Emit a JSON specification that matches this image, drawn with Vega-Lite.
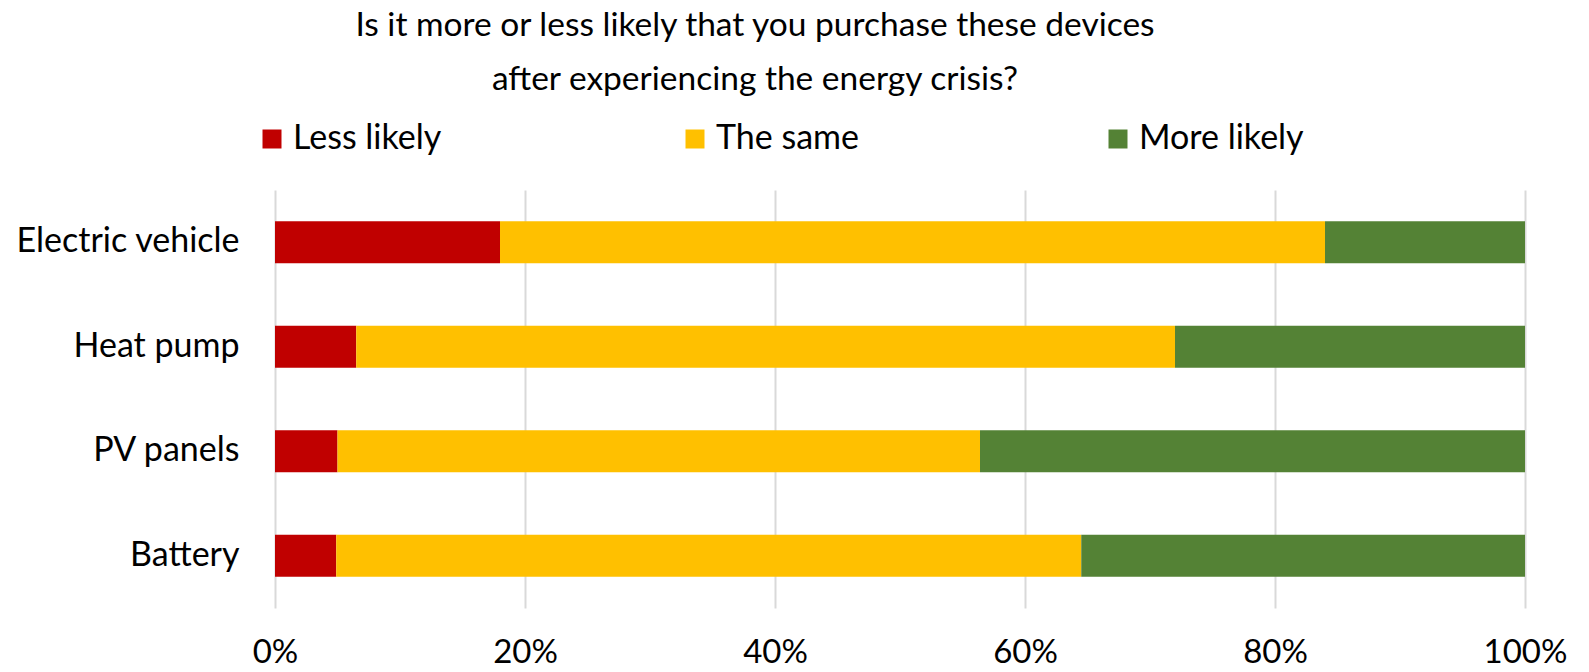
{
  "$schema": "https://vega.github.io/schema/vega-lite/v6.json",
  "width": 1250,
  "height": 418,
  "autosize": {"type": "none"},
  "padding": {"left": 275, "top": 190, "right": 64, "bottom": 64},
  "background": "white",
  "title": {
    "text": ["Is it more or less likely that you purchase these devices", "after experiencing the energy crisis?"],
    "font": "Lato",
    "fontSize": 33.5,
    "fontWeight": "normal",
    "color": "#000000",
    "lineHeight": 54,
    "anchor": "middle",
    "dx": -145,
    "offset": 25
  },
  "data": {
    "values": [
      {"device": "Electric vehicle", "answer": "Less likely", "share": 18.0},
      {"device": "Electric vehicle", "answer": "The same", "share": 66.0},
      {"device": "Electric vehicle", "answer": "More likely", "share": 16.0},
      {"device": "Heat pump", "answer": "Less likely", "share": 6.5},
      {"device": "Heat pump", "answer": "The same", "share": 65.5},
      {"device": "Heat pump", "answer": "More likely", "share": 28.0},
      {"device": "PV panels", "answer": "Less likely", "share": 5.0},
      {"device": "PV panels", "answer": "The same", "share": 51.4},
      {"device": "PV panels", "answer": "More likely", "share": 43.6},
      {"device": "Battery", "answer": "Less likely", "share": 4.9},
      {"device": "Battery", "answer": "The same", "share": 59.6},
      {"device": "Battery", "answer": "More likely", "share": 35.5}
    ]
  },
  "transform": [
    {"calculate": "indexof(['Less likely', 'The same', 'More likely'], datum.answer)", "as": "stackOrder"}
  ],
  "mark": {"type": "bar"},
  "encoding": {
    "y": {
      "field": "device",
      "type": "nominal",
      "sort": ["Electric vehicle", "Heat pump", "PV panels", "Battery"],
      "scale": {"paddingInner": 0.6, "paddingOuter": 0.3},
      "axis": {
        "title": null,
        "domain": false,
        "ticks": false,
        "labelFont": "Lato",
        "labelFontSize": 34,
        "labelColor": "#000000",
        "labelPadding": 36,
        "labelLimit": 400
      }
    },
    "x": {
      "field": "share",
      "type": "quantitative",
      "stack": "normalize",
      "scale": {"domain": [0, 1], "nice": false},
      "axis": {
        "title": null,
        "format": ".0%",
        "values": [0, 0.2, 0.4, 0.6, 0.8, 1],
        "domain": false,
        "ticks": false,
        "grid": true,
        "gridColor": "#d9d9d9",
        "gridWidth": 2,
        "labelFont": "Lato",
        "labelFontSize": 33,
        "labelColor": "#000000",
        "labelPadding": 28,
        "labelFlush": false
      }
    },
    "order": {"field": "stackOrder", "type": "quantitative"},
    "color": {
      "field": "answer",
      "type": "nominal",
      "sort": ["Less likely", "The same", "More likely"],
      "scale": {
        "domain": ["Less likely", "The same", "More likely"],
        "range": ["#C00000", "#FFC000", "#548235"]
      },
      "legend": {
        "title": null,
        "orient": "none",
        "legendX": -20,
        "legendY": -68,
        "direction": "horizontal",
        "columns": 3,
        "gridAlign": "all",
        "columnPadding": 220,
        "symbolType": "square",
        "symbolSize": 361,
        "symbolStrokeWidth": 0,
        "labelFont": "Lato",
        "labelFontSize": 34,
        "labelColor": "#000000",
        "labelOffset": 4,
        "labelLimit": 400,
        "padding": 0
      }
    }
  },
  "config": {
    "view": {"stroke": null}
  }
}
